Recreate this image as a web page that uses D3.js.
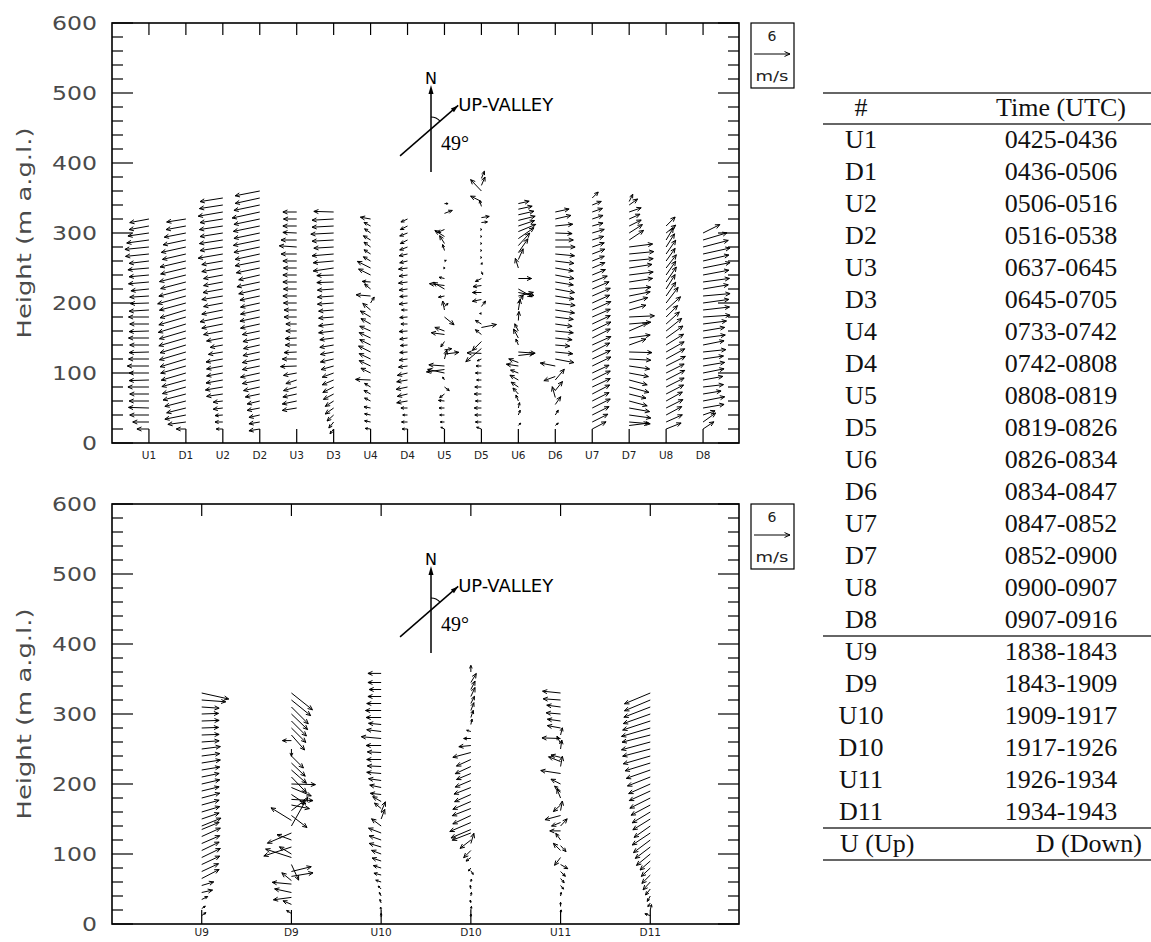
<!DOCTYPE html>
<html><head><meta charset="utf-8">
<script src="https://cdn.jsdelivr.net/npm/d3@7"></script>
<style>body{margin:0;background:#fff}</style>
</head><body>
<svg id="c" width="1151" height="942"></svg>
<script>
// ---------------- data ----------------
const heightTicks = [0,100,200,300,400,500,600];
const topStations = ["U1","D1","U2","D2","U3","D3","U4","D4","U5","D5","U6","D6","U7","D7","U8","D8"];
const bottomStations = ["U9","D9","U10","D10","U11","D11"];
const legendSpeed = 6;
const legendUnit = "m/s";
const upValleyDeg = 49;
const tableHeader = ["#","Time (UTC)"];
const tableNames1 = ["U1","D1","U2","D2","U3","D3","U4","D4","U5","D5","U6","D6","U7","D7","U8","D8"];
const tableTimes1 = ["0425-0436","0436-0506","0506-0516","0516-0538","0637-0645","0645-0705","0733-0742","0742-0808","0808-0819","0819-0826","0826-0834","0834-0847","0847-0852","0852-0900","0900-0907","0907-0916"];
const tableNames2 = ["U9","D9","U10","D10","U11","D11"];
const tableTimes2 = ["1838-1843","1843-1909","1909-1917","1917-1926","1926-1934","1934-1943"];
const tableFooter = ["U (Up)","D (Down)"];

// wind profiles: [height (m a.g.l.), u east (m/s), v north (m/s)]
const U1 = [[20,-2.0,0],[30,-2.7,0],[40,-3.2,0],[50,-3.4,0.1],[60,-3.3,0],[70,-3.2,0],[80,-3.5,0],[90,-3.3,-0.1],[100,-3.3,0],[110,-3.6,0],[120,-3.4,0],[130,-3.3,-0.1],[140,-3.2,0],[150,-3.4,0],[160,-3.3,-0.1],[170,-3.2,0],[180,-3.4,0],[190,-3.3,-0.2],[200,-3.1,-0.1],[210,-3.2,-0.2],[220,-3.0,-0.3],[230,-3.4,-0.3],[240,-3.3,-0.3],[250,-3.5,-0.3],[260,-3.3,-0.4],[270,-3.9,-0.4],[280,-4.0,-0.4],[290,-3.7,-0.5],[300,-3.5,-0.5],[310,-3.3,-0.6],[320,-3.2,-0.6]];
const D1 = [[20,-1.6,0],[30,-3.0,-0.4],[40,-3.5,-0.7],[50,-3.2,-0.8],[60,-3.5,-0.9],[70,-3.8,-1.0],[80,-3.9,-1.1],[90,-4.0,-1.1],[100,-4.1,-1.2],[110,-4.2,-1.2],[120,-4.3,-1.3],[130,-4.4,-1.3],[140,-4.3,-1.3],[150,-4.5,-1.3],[160,-4.4,-1.3],[170,-4.6,-1.4],[180,-4.5,-1.3],[190,-4.3,-1.3],[200,-4.4,-1.2],[210,-4.7,-1.3],[220,-4.5,-1.2],[230,-4.2,-1.1],[240,-4.4,-1.1],[250,-4.2,-1.0],[260,-4.3,-1.0],[270,-3.9,-0.9],[280,-4.1,-0.9],[290,-3.8,-0.8],[300,-3.6,-0.7],[310,-3.3,-0.6],[320,-3.2,-0.5]];
const U2 = [[20,-1.1,0],[30,-1.3,0],[40,-1.3,-0.1],[50,-1.6,-0.2],[60,-1.6,-0.2],[70,-2.7,-0.4],[80,-2.9,-0.5],[90,-2.8,-0.5],[100,-2.7,-0.5],[110,-2.7,-0.5],[120,-2.8,-0.5],[130,-2.4,-0.4],[140,-2.1,-0.4],[150,-2.7,-0.5],[160,-3.2,-0.6],[170,-3.5,-0.7],[180,-3.8,-0.8],[190,-3.5,-0.7],[200,-3.2,-0.6],[210,-3.5,-0.6],[220,-3.3,-0.6],[230,-3.2,-0.6],[240,-3.2,-0.6],[250,-3.5,-0.6],[260,-3.5,-0.6],[270,-4.1,-0.7],[280,-3.8,-0.6],[290,-3.9,-0.6],[300,-3.8,-0.6],[310,-3.9,-0.6],[320,-3.8,-0.6],[330,-4.1,-0.7],[340,-3.9,-0.6],[350,-3.8,-0.6]];
const D2 = [[20,-1.8,-0.3],[30,-1.8,-0.3],[40,-1.8,-0.4],[50,-2.1,-0.4],[60,-2.1,-0.5],[70,-2.4,-0.5],[80,-2.7,-0.6],[90,-2.9,-0.6],[100,-3.2,-0.7],[110,-2.9,-0.6],[120,-2.9,-0.6],[130,-2.8,-0.6],[140,-2.7,-0.6],[150,-2.8,-0.6],[160,-2.9,-0.6],[170,-3.2,-0.7],[180,-3.3,-0.7],[190,-3.2,-0.7],[200,-3.2,-0.7],[210,-3.3,-0.7],[220,-3.5,-0.8],[230,-3.8,-0.8],[240,-3.5,-0.8],[250,-3.9,-0.8],[260,-4.1,-0.8],[270,-4.1,-0.9],[280,-4.3,-0.9],[290,-4.4,-0.9],[300,-4.3,-0.9],[310,-4.4,-0.9],[320,-4.3,-0.9],[330,-4.6,-1.0],[340,-4.3,-0.9],[350,-4.1,-0.9],[360,-4.1,-0.8]];
const U3 = [[50,-2.4,-0.4],[60,-2.4,-0.5],[70,-2.3,-0.5],[80,-2.2,-0.6],[90,-1.8,-0.6],[100,-2.2,-0.4],[110,-2.7,-0.1],[120,-2.4,0],[130,-2.1,-0.1],[140,-1.9,0],[150,-1.9,-0.1],[160,-1.8,0],[170,-1.8,0],[180,-2.1,0],[190,-2.1,0],[200,-2.2,0],[210,-2.3,0],[220,-2.2,0],[230,-2.3,0],[240,-2.3,0],[250,-2.2,0],[260,-2.3,0],[270,-2.6,0],[280,-2.9,0.2],[290,-2.6,0],[300,-2.3,0.1],[310,-2.3,0],[320,-2.2,0],[330,-2.3,0]];
const D3 = [[20,-0.6,-0.8],[30,-0.8,-1.0],[40,-1.1,-1.0],[50,-1.4,-1.0],[60,-1.4,-0.9],[70,-1.7,-0.9],[80,-1.8,-0.9],[90,-1.9,-0.8],[100,-1.9,-0.7],[110,-2.1,-0.6],[120,-2.2,-0.5],[130,-2.2,-0.4],[140,-2.3,-0.4],[150,-2.3,-0.3],[160,-2.5,-0.3],[170,-2.5,-0.3],[180,-2.5,-0.2],[190,-2.5,-0.2],[200,-2.7,-0.2],[210,-2.7,-0.2],[220,-2.7,-0.2],[230,-2.8,-0.1],[240,-2.8,-0.1],[250,-3.4,-0.5],[260,-3.4,-0.3],[270,-3.6,-0.3],[280,-3.3,-0.2],[290,-3.6,-0.2],[300,-3.8,-0.2],[310,-3.6,-0.2],[320,-3.6,-0.2],[330,-3.3,0.1]];
const U4 = [[20,-0.9,0.1],[30,-1.0,0.2],[40,-1.0,0.2],[50,-1.1,0.2],[60,-1.0,0.5],[70,-1.1,0.6],[80,-1.0,0.6],[90,-2.5,0.1],[100,-1.6,0.8],[110,-1.9,0.9],[120,-1.9,0.9],[130,-2.0,1.0],[140,-1.8,0.9],[150,-1.9,0.9],[160,-1.8,0.8],[170,-1.6,0.9],[180,-1.7,1.0],[190,-1.3,1.1],[200,0.6,1.0],[210,-2.4,0.2],[220,-1.0,0.8],[230,-1.4,0.1],[240,-2.0,1.0],[250,-2.2,1.1],[260,-1.2,0.7],[270,-1.1,0.7],[280,-1.1,0.8],[290,-1.2,0.7],[300,-1.0,0.7],[310,-1.1,0.6],[320,-1.7,0.3]];
const D4 = [[20,-0.9,0],[30,-1.0,0],[40,-0.8,0],[50,-1.1,0],[60,-1.8,-0.3],[70,-1.7,-0.4],[80,-1.9,-0.4],[90,-1.8,-0.3],[100,-1.7,-0.4],[110,-1.5,-0.2],[120,-1.4,-0.2],[130,-1.3,-0.1],[140,-1.2,-0.1],[150,-1.3,-0.2],[160,-1.4,-0.1],[170,-1.1,0],[180,-1.3,-0.1],[190,-1.0,0],[200,-1.4,-0.2],[210,-1.3,-0.1],[220,-1.4,-0.2],[230,-1.5,-0.2],[240,-1.4,-0.2],[250,-1.5,-0.2],[260,-1.3,-0.3],[270,-1.4,-0.3],[280,-1.3,-0.5],[290,-1.2,-0.6],[300,-1.3,-0.5],[310,-1.2,-0.6],[320,-1.1,-0.5]];
const U5 = [[20,-0.6,0.3],[30,-0.7,0],[40,-0.8,0],[50,-0.9,0],[60,-1.0,0.1],[70,-0.8,-0.6],[80,0.8,-0.6],[90,-0.3,0.5],[100,-2.8,0.6],[105,-3.0,-0.4],[110,-2.6,0.2],[120,0.4,1.5],[127,2.4,0.3],[133,1.2,0.2],[145,-0.6,-0.9],[155,-2.2,0.3],[160,-1.6,0.6],[180,1.6,-1.3],[190,-0.3,1.5],[195,0.6,0.5],[210,-1.0,-0.2],[220,-1.9,1.1],[225,-2.5,0.3],[235,-0.9,0.2],[250,0.1,0],[260,0.3,0.1],[275,-0.3,1.0],[285,-0.8,1.3],[295,-1.6,1.0],[305,-1.2,-0.5],[328,1.3,0.5],[342,0.6,0]];
const D5 = [[20,-0.8,0.3],[30,-1.0,0],[40,-1.1,0],[50,-1.2,0],[60,-1.0,0],[70,-1.2,0],[80,-1.1,0],[90,-0.8,0],[100,-1.0,0],[110,-0.9,0],[120,-0.7,-0.3],[128,-2.4,0.1],[135,-2.6,-2.2],[145,-1.5,-1.5],[155,-1.0,0.8],[165,2.5,0.5],[170,-1.0,0.6],[185,-0.3,0],[195,0.7,0.9],[205,-1.5,-0.3],[215,-1.5,0],[225,-1.4,-0.2],[235,-1.0,-0.5],[245,0.2,-0.5],[255,0.1,0.3],[265,0.1,0],[275,0.1,0],[285,0.1,0],[295,0.1,0],[305,0.1,0],[315,1.0,0.1],[322,1.3,0.2],[338,-0.3,1.0],[345,-1.8,0.9],[360,-1.8,1.9],[368,0.6,1.4],[378,0.5,1.2]];
const U6 = [[25,0.4,0.4],[40,0.3,0.8],[50,0.2,0.9],[60,-0.4,1.0],[70,-0.9,1.0],[80,-1.2,0.8],[90,-1.4,0.8],[100,-1.3,0.5],[110,-2.0,0.3],[115,-1.6,0.6],[125,2.6,0.3],[130,2.8,-0.2],[140,-0.4,1.0],[150,-0.8,1.5],[160,-0.6,1.2],[175,0.1,1.5],[190,0.3,1.8],[200,0.8,1.3],[210,2.5,0.6],[215,2.6,-0.5],[220,2.3,-1.3],[235,2.2,0],[250,-0.5,1.6],[262,0.8,1.8],[272,1.6,2.3],[282,1.9,2.1],[292,2.6,1.8],[302,2.9,1.2],[310,2.7,0.9],[318,2.8,0.7],[326,2.6,0.6],[334,2.3,0.5],[342,1.8,0.4]];
const D6 = [[25,0.5,0.4],[40,0.5,0.8],[55,0.9,1.3],[65,-0.5,1.8],[75,1.2,1.5],[90,1.5,1.8],[95,-1.9,-0.7],[110,-2.5,0.5],[120,3.1,-0.6],[130,2.9,-0.3],[140,2.4,-0.2],[150,2.8,-0.3],[160,3.0,-0.3],[170,2.8,-0.4],[180,3.0,-0.4],[190,3.2,-0.5],[200,3.3,-0.4],[210,3.1,-0.5],[220,3.2,-0.6],[230,3.0,-0.5],[240,3.1,-0.6],[250,3.0,-0.5],[260,3.1,-0.4],[270,3.2,-0.3],[280,3.3,0],[290,3.0,0],[300,2.8,-0.1],[310,2.9,0.3],[320,2.6,0.6],[330,2.3,0.5]];
const U7 = [[20,2.3,1.2],[30,2.6,1.3],[40,2.8,1.4],[50,3.0,1.5],[60,2.8,1.4],[70,2.9,1.5],[80,3.0,1.4],[90,3.0,1.5],[100,2.8,1.3],[110,3.1,1.5],[120,3.0,1.4],[130,2.9,1.5],[140,3.1,1.4],[150,3.0,1.5],[160,3.1,1.5],[170,3.0,1.4],[180,3.0,1.3],[190,3.1,1.4],[200,2.9,1.3],[210,3.0,1.3],[220,2.8,1.2],[230,2.5,1.0],[240,2.2,0.9],[250,2.1,0.9],[260,2.0,0.8],[270,2.1,0.8],[280,2.0,0.7],[290,1.9,0.6],[300,2.0,0.6],[310,1.8,0.5],[320,1.8,0.6],[330,1.7,0.6],[340,1.5,0.6],[350,1.0,1.0]];
const D7 = [[25,3.2,0.4],[30,3.5,-0.3],[40,3.6,-0.5],[50,3.4,-0.6],[60,3.0,-0.8],[70,2.8,-0.7],[80,3.3,-0.9],[90,3.0,-0.8],[100,3.2,-0.6],[110,3.4,-0.5],[120,3.6,-0.2],[130,3.8,-0.1],[140,2.8,1.0],[150,3.5,0.5],[160,3.0,1.3],[170,3.6,0.3],[180,4.2,0.2],[190,2.8,0.8],[200,3.1,0.9],[210,3.5,0.7],[220,3.6,0.3],[230,3.9,0.6],[240,4.0,0.5],[250,3.8,0.6],[260,4.0,0.4],[270,4.1,0.4],[280,3.9,0.5],[290,2.4,1.6],[300,2.2,1.4],[310,2.0,1.0],[320,1.8,0.8],[330,2.0,0.7],[340,1.4,1.0],[345,0.6,1.2]];
const U8 = [[20,2.5,1.0],[30,2.7,1.2],[40,2.6,1.4],[50,2.8,1.4],[60,2.7,1.5],[70,2.9,1.5],[80,3.0,1.5],[90,3.1,1.6],[100,3.0,1.5],[110,3.2,1.6],[120,3.1,1.7],[130,3.0,1.7],[140,2.9,1.8],[150,2.8,2.0],[160,2.6,2.1],[170,2.2,2.0],[180,1.9,1.9],[190,2.4,2.2],[200,2.0,2.6],[210,1.6,2.3],[220,1.5,2.4],[230,1.7,2.5],[240,1.6,2.3],[250,1.7,2.2],[260,1.5,2.1],[270,1.6,2.3],[280,1.4,2.2],[290,1.2,2.0],[300,1.6,1.3],[310,1.5,1.5]];
const D8 = [[20,1.8,1.2],[30,2.1,1.5],[40,2.0,0.7],[50,3.5,0.6],[60,3.6,0.7],[70,3.0,0.5],[80,3.4,0.4],[90,3.3,0.6],[100,3.5,0.7],[110,3.6,0.6],[120,3.4,0.5],[130,3.8,0.4],[140,3.5,0.7],[150,3.7,0.5],[160,3.6,0.6],[170,3.9,0.5],[180,4.5,0.3],[190,4.4,0.5],[200,4.3,0.6],[210,4.5,0.4],[220,4.2,0.7],[230,4.4,0.6],[240,4.3,0.8],[250,4.5,0.9],[260,4.3,1.0],[270,4.5,1.0],[280,4.2,1.1],[290,4.0,1.2],[300,2.8,1.4]];
const U9 = [[12,0.7,0.5],[22,0.6,0.4],[35,1.0,0.5],[45,1.8,0.4],[55,2.0,0.6],[65,2.9,1.5],[75,2.8,1.3],[85,3.0,1.4],[95,3.1,1.5],[105,2.9,1.4],[115,3.0,1.3],[125,3.1,1.4],[135,2.9,1.2],[140,3.2,1.3],[150,2.9,1.0],[160,3.0,0.9],[170,2.9,0.8],[180,3.0,0.8],[190,2.9,0.7],[200,3.0,0.7],[210,2.9,0.6],[220,3.0,0.5],[230,3.1,0.5],[240,3.0,0.4],[250,3.1,0.4],[260,2.9,0.2],[270,2.9,0.1],[280,2.8,0.1],[290,2.9,0.1],[300,2.8,0.1],[310,2.9,-0.2],[320,4.0,-0.3],[330,4.5,-1.0]];
const D9 = [[15,-0.8,0.5],[28,-1.4,0.6],[38,-3.0,-0.4],[45,-2.8,0.6],[57,-3.2,0.3],[62,-1.6,1.3],[68,3.6,0.6],[75,3.3,0.8],[85,1.2,-2.6],[95,-4.3,1.4],[100,-2.0,1.2],[110,-4.6,-1.5],[120,-2.4,0.9],[130,-4.0,-1.7],[140,2.7,4.8],[148,-3.4,2.1],[155,2.6,-2.0],[162,2.2,1.7],[170,3.0,-0.6],[178,3.6,-0.2],[185,2.4,-1.6],[195,3.3,-1.4],[200,4.0,-0.1],[210,2.5,-2.6],[220,2.5,-2.2],[230,2.3,-2.2],[240,2.0,-2.0],[250,0.0,-1.2],[262,-1.5,0],[270,2.2,-2.5],[280,2.4,-2.4],[290,2.5,-2.5],[300,2.7,-2.6],[310,2.8,-2.8],[320,3.2,-2.6],[330,3.5,-2.8]];
const U10 = [[10,0,0.6],[20,-0.1,0.5],[30,-0.2,0.6],[40,-0.3,0.6],[50,-0.5,0.5],[60,-0.9,0.3],[70,-1.2,0.3],[80,-1.3,0.4],[90,-1.5,0.5],[100,-1.6,0.6],[110,-2.0,0.6],[120,-2.0,0.7],[130,-2.1,0.8],[140,-1.6,1.2],[150,0.6,1.6],[160,0.7,1.7],[165,-1.1,0.9],[175,-1.4,0.8],[185,-1.8,0.2],[195,-1.9,0.4],[205,-2.1,0.3],[215,-2.4,0.2],[225,-2.3,0.1],[235,-2.4,0],[245,-2.3,0.1],[255,-2.5,0],[265,-3.3,0.3],[275,-2.4,0.3],[285,-2.1,0.2],[295,-2.5,0],[305,-2.6,0],[315,-2.4,0],[325,-2.2,0],[335,-2.0,0],[345,-2.2,0],[358,-2.2,0]];
const D10 = [[10,0,0.5],[20,0.1,0.6],[30,-0.1,0.5],[40,0.1,0.6],[50,-0.1,0.6],[60,0.1,0.5],[76,0.4,-0.6],[80,-0.4,-0.5],[95,-0.8,-0.6],[105,-1.2,-1.2],[115,0.5,1.7],[120,-1.8,-1.4],[130,-3.1,-1.2],[135,-3.3,-1.4],[145,-3.5,-1.5],[155,-3.0,-1.4],[165,-3.1,-1.2],[175,-3.0,-1.3],[185,-2.7,-1.2],[195,-2.8,-1.1],[205,-2.6,-1.1],[215,-2.4,-1.0],[225,-2.6,-1.2],[235,-2.4,-1.1],[245,-3.0,-0.8],[255,-2.0,-0.2],[265,-1.2,0],[275,-0.7,0.2],[285,0.2,0.9],[295,0.4,1.2],[305,0.5,1.3],[315,0.6,1.2],[325,0.7,1.5],[335,0.7,1.4],[345,0.9,1.5],[360,0.0,1.1]];
const U11 = [[15,0.1,0.6],[25,0,0.7],[40,0.1,0.6],[55,0.5,-0.6],[65,0.6,-0.7],[75,0.8,-0.8],[85,1.2,-0.7],[95,-1.0,-1.3],[105,-1.2,1.2],[112,0.9,-1.0],[120,-0.8,1.1],[133,-1.8,0],[140,1.1,1.2],[145,-1.5,-0.6],[155,-2.6,-0.7],[162,0.3,1.6],[170,-1.2,-1.1],[180,-0.6,1.5],[190,-1.0,0.8],[200,-1.6,0.8],[215,-3.3,0.5],[225,0.3,1.7],[232,-2.0,0.8],[238,-1.6,0.4],[250,0.2,1.5],[258,-0.6,1.2],[265,-3.1,0.1],[270,0.3,1.2],[280,-2.2,0.4],[290,-2.2,0.3],[300,-2.4,0.2],[310,-2.3,0.3],[320,-2.9,0.2],[330,-3.0,0.3]];
const D11 = [[12,-0.9,0.3],[20,0.2,0.9],[30,-0.4,-0.6],[40,-0.5,-0.9],[50,-0.8,-1.0],[60,-1.2,-1.3],[70,-1.4,-1.4],[80,-1.5,-1.4],[90,-1.7,-1.5],[100,-2.3,-1.9],[110,-2.5,-1.9],[120,-2.8,-2.1],[130,-3.0,-2.0],[140,-2.7,-1.9],[150,-2.9,-1.8],[160,-3.0,-1.8],[170,-3.2,-1.7],[180,-3.4,-1.7],[190,-3.5,-1.6],[200,-3.6,-1.6],[210,-3.8,-1.5],[220,-4.0,-1.4],[230,-4.2,-1.3],[240,-4.5,-1.3],[250,-4.6,-1.2],[260,-4.8,-1.3],[270,-4.7,-1.2],[280,-4.8,-1.4],[290,-4.6,-1.5],[300,-4.5,-1.6],[310,-4.4,-1.7],[320,-4.3,-1.8],[330,-4.3,-1.8]];

const topProfiles = [U1,D1,U2,D2,U3,D3,U4,D4,U5,D5,U6,D6,U7,D7,U8,D8];
const bottomProfiles = [U9,D9,U10,D10,U11,D11];

// ---------------- drawing ----------------
const svg = d3.select("#c");
const L = 112, R = 739;
const speed = d3.scaleLinear().domain([0, legendSpeed]).range([0, 36]); // px per m/s

function arrowPath(x0, y0, x1, y1, hl) {
  const dx = x1 - x0, dy = y1 - y0;
  const len = Math.hypot(dx, dy);
  let p = `M${x0},${y0}L${x1},${y1}`;
  if (len < 0.3) return p;
  const a = Math.atan2(dy, dx);
  const h = hl !== undefined ? hl : Math.min(5, Math.max(2, len * 0.5));
  const s = 0.42;
  p += `M${x1 - h*Math.cos(a - s)},${y1 - h*Math.sin(a - s)}L${x1},${y1}L${x1 - h*Math.cos(a + s)},${y1 - h*Math.sin(a + s)}`;
  return p;
}

function panel(top, stations, profiles, labelY) {
  const bottom = top + 420;
  const g = svg.append("g");
  const x = d3.scaleLinear().domain([0, stations.length + 1]).range([L, R + 1]);
  const y = d3.scaleLinear().domain([0, 600]).range([bottom, top]);

  // left axis labels
  const minor = d3.range(0, 601, 20);
  const yl = d3.axisLeft(y).tickValues(heightTicks).tickSize(0).tickPadding(15).tickFormat(d3.format("d"));
  const ga = g.append("g").attr("transform", `translate(${L},0)`).call(yl);
  ga.select(".domain").remove();
  ga.selectAll("text")
    .attr("font-family", "DejaVu Sans").attr("font-size", 20).attr("fill", "#4a4a4a")
    .attr("textLength", d => String(d).length * 15).attr("lengthAdjust", "spacingAndGlyphs");
  // ticks inward on left and right
  g.selectAll(".tl").data(minor).join("line")
    .attr("x1", L).attr("x2", d => L + (d % 100 === 0 ? 21 : 11))
    .attr("y1", d => y(d)).attr("y2", d => y(d))
    .attr("stroke", "#000").attr("stroke-width", 1.2);
  g.selectAll(".tr").data(minor).join("line")
    .attr("x1", R).attr("x2", d => R - (d % 100 === 0 ? 21 : 11))
    .attr("y1", d => y(d)).attr("y2", d => y(d))
    .attr("stroke", "#000").attr("stroke-width", 1.2);
  // station ticks top & bottom
  stations.forEach((s, i) => {
    const xs = x(i + 1);
    g.append("line").attr("x1", xs).attr("x2", xs).attr("y1", top).attr("y2", top + 12)
      .attr("stroke", "#000").attr("stroke-width", 1.2);
    g.append("line").attr("x1", xs).attr("x2", xs).attr("y1", bottom).attr("y2", bottom - 14)
      .attr("stroke", "#000").attr("stroke-width", 1.2);
    g.append("text").attr("x", xs).attr("y", labelY).attr("text-anchor", "middle")
      .attr("font-family", "DejaVu Sans").attr("font-size", 10.5).attr("fill", "#222").text(s);
  });
  // frame
  g.append("rect").attr("x", L).attr("y", top).attr("width", R - L).attr("height", 420)
    .attr("fill", "none").attr("stroke", "#000").attr("stroke-width", 1.6);

  // y title
  g.append("text").attr("transform", `translate(31,${(top + bottom) / 2}) rotate(-90)`)
    .attr("text-anchor", "middle").attr("font-family", "DejaVu Sans").attr("font-size", 20)
    .attr("fill", "#4a4a4a").attr("textLength", 211).attr("lengthAdjust", "spacingAndGlyphs")
    .text("Height (m a.g.l.)");

  // wind vectors
  profiles.forEach((prof, i) => {
    const xs = x(i + 1);
    g.append("g").selectAll("path").data(prof).join("path")
      .attr("d", d => {
        const y0 = y(d[0]);
        return arrowPath(xs, y0, xs + speed(d[1]), y0 - speed(d[2]));
      })
      .attr("fill", "none").attr("stroke", "#000").attr("stroke-width", 1);
  });

  // legend box
  const lg = g.append("g");
  lg.append("rect").attr("x", 751).attr("y", top).attr("width", 43).attr("height", 65)
    .attr("fill", "none").attr("stroke", "#000").attr("stroke-width", 1.2);
  lg.append("text").attr("x", 772).attr("y", top + 18).attr("text-anchor", "middle")
    .attr("font-family", "DejaVu Sans").attr("font-size", 14).attr("fill", "#222").text(String(legendSpeed));
  lg.append("path").attr("d", arrowPath(754, top + 31, 754 + speed(legendSpeed), top + 31, 6))
    .attr("fill", "none").attr("stroke", "#000").attr("stroke-width", 1);
  lg.append("text").attr("x", 772).attr("y", top + 58).attr("text-anchor", "middle")
    .attr("font-family", "DejaVu Sans").attr("font-size", 14).attr("fill", "#222")
    .attr("textLength", 33).attr("lengthAdjust", "spacingAndGlyphs").text(legendUnit);

  // north / up-valley annotation
  const nx = 431, cy = top + 106;
  const ag = g.append("g");
  ag.append("line").attr("x1", nx).attr("x2", nx).attr("y1", top + 149).attr("y2", top + 66)
    .attr("stroke", "#000").attr("stroke-width", 1.5);
  ag.append("path").attr("d", `M${nx},${top + 62}L${nx - 2.5},${top + 71}L${nx + 2.5},${top + 71}Z`).attr("fill", "#000");
  ag.append("text").attr("x", nx).attr("y", top + 61).attr("text-anchor", "middle")
    .attr("font-family", "DejaVu Sans").attr("font-size", 16).text("N");
  const a = upValleyDeg * Math.PI / 180;
  const back = 41, fwd = 36;
  const ex = nx + fwd * Math.sin(a), ey = cy - fwd * Math.cos(a);
  ag.append("line").attr("x1", nx - back * Math.sin(a)).attr("y1", cy + back * Math.cos(a))
    .attr("x2", ex).attr("y2", ey).attr("stroke", "#000").attr("stroke-width", 1.5);
  ag.append("path").attr("d", () => {
    const ang = Math.atan2(ey - cy, ex - nx), h = 8, s = 0.3;
    return `M${ex},${ey}L${ex - h*Math.cos(ang - s)},${ey - h*Math.sin(ang - s)}L${ex - h*Math.cos(ang + s)},${ey - h*Math.sin(ang + s)}Z`;
  }).attr("fill", "#000");
  const r = 12;
  ag.append("path").attr("d", `M${nx},${cy - r}A${r},${r} 0 0 1 ${nx + r*Math.sin(a)},${cy - r*Math.cos(a)}`)
    .attr("fill", "none").attr("stroke", "#000").attr("stroke-width", 1.2);
  ag.append("text").attr("x", ex).attr("y", ey + 6).attr("font-family", "DejaVu Sans")
    .attr("font-size", 17).attr("textLength", 95).attr("lengthAdjust", "spacingAndGlyphs").text("UP-VALLEY");
  ag.append("text").attr("x", nx + 10).attr("y", top + 127).attr("font-family", "Liberation Serif")
    .attr("font-size", 20).text(upValleyDeg + "°");
}

panel(23, topStations, topProfiles, 459);
panel(504, bottomStations, bottomProfiles, 936);

// ---------------- table ----------------
const tg = svg.append("g").attr("font-family", "Liberation Serif").attr("font-size", 26).attr("fill", "#111");
const tx1 = 823, tx2 = 1151, cL = 861, cR = 1061, pitch = 32;
const hline = yy => tg.append("line").attr("x1", tx1).attr("x2", tx2).attr("y1", yy).attr("y2", yy)
  .attr("stroke", "#333").attr("stroke-width", 1.5);
const rowText = (yc, a, b) => {
  tg.append("text").attr("x", cL).attr("y", yc + 8).attr("text-anchor", "middle").text(a);
  tg.append("text").attr("x", cR).attr("y", yc + 8).attr("text-anchor", "middle").text(b);
};
hline(93);
rowText(108, tableHeader[0], tableHeader[1]);
hline(124);
tableNames1.forEach((n, i) => rowText(140 + i * pitch, n, tableTimes1[i]));
hline(636);
tableNames2.forEach((n, i) => rowText(652 + i * pitch, n, tableTimes2[i]));
hline(828);
tg.append("text").attr("x", 840).attr("y", 852).text(tableFooter[0]);
tg.append("text").attr("x", 1142).attr("y", 852).attr("text-anchor", "end").text(tableFooter[1]);
hline(860);
</script>
</body></html>
